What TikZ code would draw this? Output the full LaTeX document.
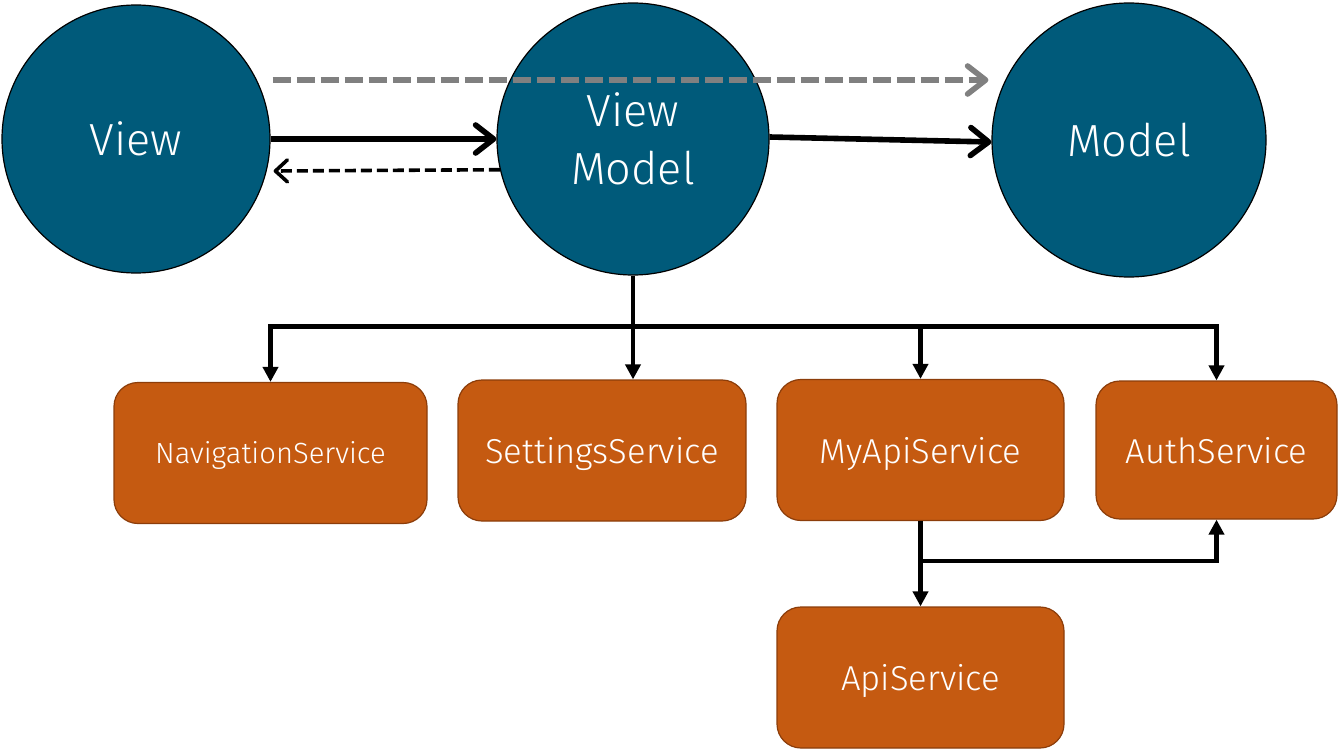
\documentclass[tikz,border=0pt]{standalone}
\usepackage{fontspec}
\setmainfont{Fira Sans Light}
\usetikzlibrary{arrows.meta,calc}
\definecolor{circ}{HTML}{005A7A}
\definecolor{boxf}{HTML}{C55A11}
\definecolor{boxd}{HTML}{8C3D0A}
\definecolor{gr}{HTML}{808080}
\tikzset{
  circnode/.style={circle,draw=black,line width=0.6pt,fill=circ,text=white,minimum size=#1,inner sep=0pt,align=center,font=\fontsize{22.5}{29}\selectfont},
  svc/.style={rounded corners=12pt,draw=boxd,line width=0.6pt,fill=boxf,text=white,minimum width=#1,minimum height=70.5pt,inner sep=0pt,text depth=0pt,font=\fontsize{17.3}{20}\selectfont},
  flow/.style={line width=2.8pt,-{Straight Barb[length=9pt,width=14pt,line width=2.8pt,round]}},
  tree/.style={line width=2.2pt,-{Triangle[length=7.5pt,width=7.5pt]}},
}
\begin{document}
\begin{tikzpicture}[x=0.5pt,y=-0.5pt]
\useasboundingbox (0,0) rectangle (1338,749);
\node[circnode=134pt] (v) at (136,139) {View};
\node[circnode=136pt] (vm) at (633,139) {View\\Model};
\node[circnode=137pt] (m) at (1129,140) {Model};

\node[svc=156.5pt,font=\fontsize{14.6}{17}\selectfont] (nav) at (270.5,453) {NavigationService};
\node[svc=144pt] (set) at (602,450.5) {SettingsService};
\node[svc=143.5pt] (my) at (920.5,450) {MyApiService};
\node[svc=120.5pt,minimum height=69pt] (auth) at (1216.5,450) {AuthService};
\node[svc=143.5pt] (api) at (920.5,677.5) {ApiService};

% top arrows
\draw[flow,gr,dash pattern=on 9pt off 3pt] ($(v.east)+(2,-59)$) -- ($(m.west)+(-3,-60)$);
\draw[flow] (v.east) -- (vm.west);
\draw[flow] ($(vm.east)+(0,-2)$) -- ($(m.west)+(0,2)$);
\draw[line width=1.8pt,dash pattern=on 5.5pt off 2.5pt,-{Straight Barb[length=6pt,width=11pt,line width=1.8pt,round]}] (vm.193.6) -- ($(v.east)+(3,32)$);

% tree
\draw[line width=2.2pt] (vm.south) -- ++(0,51) coordinate (j);
\draw[tree] (j) -| (nav.north);
\draw[tree] (j) -- (vm.south |- set.north);
\draw[tree] (j) -| (my.north);
\draw[tree] (j) -| (auth.north);

\draw[tree] (my.south) -- (api.north);
\draw[tree] ($(my.south)+(0,40)$) -| (auth.south);
\end{tikzpicture}
\end{document}
